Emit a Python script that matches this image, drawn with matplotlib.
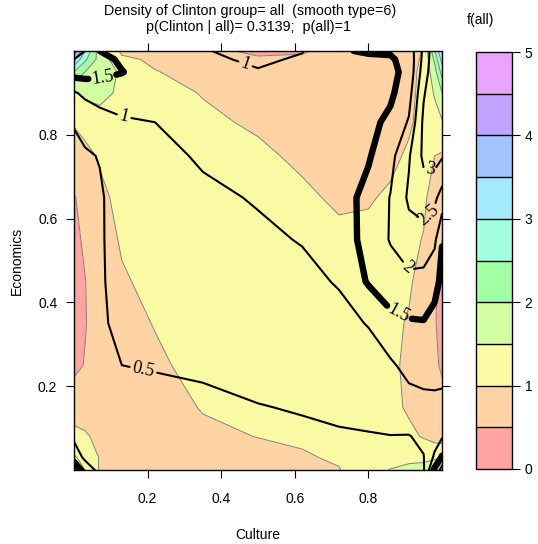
import matplotlib
matplotlib.use("Agg")
import matplotlib.pyplot as plt

plt.rcParams["font.family"] = ["Liberation Sans", "DejaVu Sans"]

# grid positions (denser near the edges)
culture = [0, 0.03, 0.07, 0.13, 0.22, 0.35, 0.5, 0.62, 0.72, 0.8, 0.86, 0.91, 0.95, 0.98, 1.0]
economics = [0, 0.03, 0.08, 0.15, 0.25, 0.35, 0.45, 0.55, 0.65, 0.75, 0.83, 0.9, 0.95, 0.98, 1.0]

# f(all) -> filled colours, one row per economics value
f_all = [
    [1.8, 1.5, 0.95, 0.7, 0.7, 0.75, 0.8, 0.88, 0.98, 1.3, 1.52, 1.7, 1.8, 2.2, 2.5],
    [1.55, 1.35, 0.97, 0.7, 0.7, 0.8, 0.85, 0.96, 1.05, 1.2, 1.3, 1.3, 1.3, 1.35, 1.4],
    [1.15, 1.05, 0.9, 0.7, 0.72, 0.9, 1.01, 1.06, 1.1, 1.15, 1.15, 1.08, 0.97, 0.85, 0.8],
    [0.75, 0.8, 0.78, 0.72, 0.78, 1.03, 1.12, 1.15, 1.15, 1.12, 1.1, 0.95, 0.85, 0.7, 0.6],
    [0.4, 0.52, 0.7, 0.78, 0.92, 1.15, 1.2, 1.2, 1.18, 1.15, 1.08, 0.92, 0.75, 0.55, 0.46],
    [0.35, 0.48, 0.68, 0.85, 1.02, 1.2, 1.25, 1.22, 1.18, 1.15, 1.08, 0.97, 0.75, 0.52, 0.42],
    [0.38, 0.49, 0.7, 0.95, 1.12, 1.25, 1.27, 1.2, 1.15, 1.12, 1.1, 1.05, 0.85, 0.52, 0.44],
    [0.42, 0.55, 0.78, 1.05, 1.18, 1.27, 1.25, 1.15, 1.1, 1.08, 1.1, 1.1, 0.98, 0.6, 0.5],
    [0.48, 0.6, 0.9, 1.12, 1.22, 1.25, 1.18, 1.08, 0.93, 0.97, 1.05, 1.15, 1.08, 0.8, 0.7],
    [0.7, 0.88, 1.05, 1.2, 1.25, 1.18, 1.08, 0.92, 0.85, 0.88, 0.92, 1.05, 1.1, 1.0, 0.95],
    [1.05, 1.15, 1.3, 1.25, 1.22, 1.08, 0.94, 0.8, 0.8, 0.82, 0.85, 0.95, 1.12, 1.3, 1.45],
    [1.45, 1.6, 1.65, 1.4, 1.15, 0.98, 0.8, 0.72, 0.75, 0.78, 0.8, 0.9, 1.12, 1.55, 2.0],
    [2.5, 2.0, 1.85, 1.4, 1.02, 0.85, 0.7, 0.65, 0.72, 0.75, 0.78, 0.88, 1.1, 1.8, 2.7],
    [3.5, 2.6, 1.8, 1.1, 0.92, 0.75, 0.6, 0.6, 0.7, 0.75, 0.78, 0.88, 1.05, 2.1, 3.2],
    [4.5, 3.0, 1.7, 0.9, 0.88, 0.7, 0.35, 0.44, 0.68, 0.75, 0.78, 0.88, 1.02, 2.4, 3.6],
]

# Clinton density -> black contour lines
f_clinton = [
    [2.6, 0.8, 0.35, 0.3, 0.3, 0.3, 0.33, 0.36, 0.38, 0.42, 0.43, 0.45, 0.45, 1.6, 2.2],
    [0.8, 0.4, 0.35, 0.3, 0.3, 0.32, 0.36, 0.4, 0.42, 0.45, 0.45, 0.45, 0.48, 1.1, 1.55],
    [0.4, 0.38, 0.33, 0.32, 0.33, 0.36, 0.41, 0.45, 0.47, 0.48, 0.49, 0.48, 0.6, 0.75, 0.95],
    [0.35, 0.35, 0.35, 0.38, 0.4, 0.43, 0.49, 0.52, 0.56, 0.6, 0.7, 0.8, 0.85, 0.9, 0.92],
    [0.3, 0.32, 0.4, 0.5, 0.52, 0.55, 0.6, 0.65, 0.72, 0.82, 0.93, 1.15, 1.2, 1.15, 1.1],
    [0.28, 0.3, 0.45, 0.58, 0.62, 0.65, 0.72, 0.78, 0.88, 1.02, 1.35, 1.45, 1.47, 1.35, 1.25],
    [0.28, 0.3, 0.46, 0.62, 0.7, 0.75, 0.82, 0.9, 1.03, 1.55, 1.8, 1.88, 1.85, 1.65, 1.4],
    [0.3, 0.32, 0.46, 0.65, 0.75, 0.83, 0.93, 1.02, 1.18, 1.7, 2.03, 2.3, 2.3, 2.1, 1.52],
    [0.35, 0.37, 0.45, 0.7, 0.8, 0.92, 1.03, 1.1, 1.28, 1.65, 2.02, 2.58, 2.75, 2.6, 2.3],
    [0.42, 0.45, 0.52, 0.8, 0.88, 1.05, 1.12, 1.18, 1.33, 1.45, 1.85, 2.45, 3.1, 3.2, 3.05],
    [0.52, 0.65, 0.8, 0.95, 1.0, 1.12, 1.15, 1.2, 1.33, 1.38, 1.6, 2.05, 3.1, 3.3, 3.3],
    [0.95, 1.1, 1.2, 1.2, 1.12, 1.15, 1.12, 1.18, 1.3, 1.32, 1.42, 1.8, 2.95, 3.35, 3.4],
    [1.7, 1.7, 1.65, 1.52, 1.2, 1.12, 1.03, 1.12, 1.3, 1.3, 1.38, 1.65, 2.75, 3.35, 3.4],
    [2.0, 1.9, 1.7, 1.4, 1.22, 1.08, 0.93, 1.05, 1.35, 1.4, 1.45, 1.65, 2.65, 3.35, 3.4],
    [2.2, 2.0, 1.5, 1.3, 1.2, 1.03, 0.85, 0.98, 1.45, 1.55, 1.55, 1.7, 2.6, 3.35, 3.4],
]

fill_levels = [0, 0.5, 1, 1.5, 2, 2.5, 3, 3.5, 4, 4.5, 5]
fill_colors = ["#ffa3a3", "#ffd3a3", "#fafaa5", "#d3ffa3", "#a3ffa3",
               "#a3ffde", "#a3eaff", "#a3c3ff", "#c0a3ff", "#eaa3ff"]
line_levels = [0.5, 1, 1.5, 2, 2.5, 3]
cbar_ticks = [0, 1, 2, 3, 4, 5]

# where the contour labels sit
label_spots = [(0.078, 0.933), (0.137, 0.849), (0.464, 0.964), (0.19, 0.245),
               (0.88, 0.369), (0.905, 0.482), (0.954, 0.614), (0.967, 0.712)]

fig = plt.figure(figsize=(5.38, 5.44), dpi=100)
ax = fig.add_axes([74 / 538, 1 - 470 / 544, 368 / 538, 419 / 544])

cf = ax.contourf(culture, economics, f_all, levels=fill_levels, colors=fill_colors)
ax.contour(culture, economics, f_all, levels=fill_levels[1:-1], colors="#808080", linewidths=0.7)

cs = ax.contour(culture, economics, f_clinton, levels=line_levels, colors="black",
                linewidths=[1.5, 1.5, 4.6, 1.5, 1.5, 1.5])
cs.set_capstyle("round")
cs.set_joinstyle("round")
with plt.rc_context({"font.family": ["Liberation Serif", "DejaVu Serif"]}):
    ax.clabel(cs, fmt=lambda v: f"{v:g}", manual=label_spots, inline=True,
              fontsize=13, inline_spacing=3)

ax.set_xlim(0, 1)
ax.set_ylim(0, 1)
ax.set_xticks([0.2, 0.4, 0.6, 0.8])
ax.set_yticks([0.2, 0.4, 0.6, 0.8])
ax.tick_params(direction="out", length=6, width=0.8, top=True, right=True,
               labeltop=False, labelright=False, labelsize=10, pad=6)
ax.tick_params(axis="x", pad=10)
for s in ax.spines.values():
    s.set_linewidth(1)
ax.set_xlabel("Culture", fontsize=10, labelpad=16)
ax.set_ylabel("Economics", fontsize=10, labelpad=10)

fig.text(250 / 538, 1 - 11 / 544, "Density of Clinton group= all  (smooth type=6)",
         ha="center", va="center", fontsize=10.3)
fig.text(248 / 538, 1 - 27 / 544, "p(Clinton | all)= 0.3139;  p(all)=1",
         ha="center", va="center", fontsize=10.3)
fig.text(480 / 538, 1 - 20 / 544, "f(all)", ha="center", va="center", fontsize=10)

cax = fig.add_axes([476 / 538, 1 - 469 / 544, 36 / 538, 417 / 544])
cb = fig.colorbar(cf, cax=cax, drawedges=True, ticks=cbar_ticks)
cb.dividers.set_linewidth(1)
cb.outline.set_linewidth(1)
cax.tick_params(direction="out", length=6, width=0.8, labelsize=10, pad=3)

fig.savefig("out.png", dpi=100)
